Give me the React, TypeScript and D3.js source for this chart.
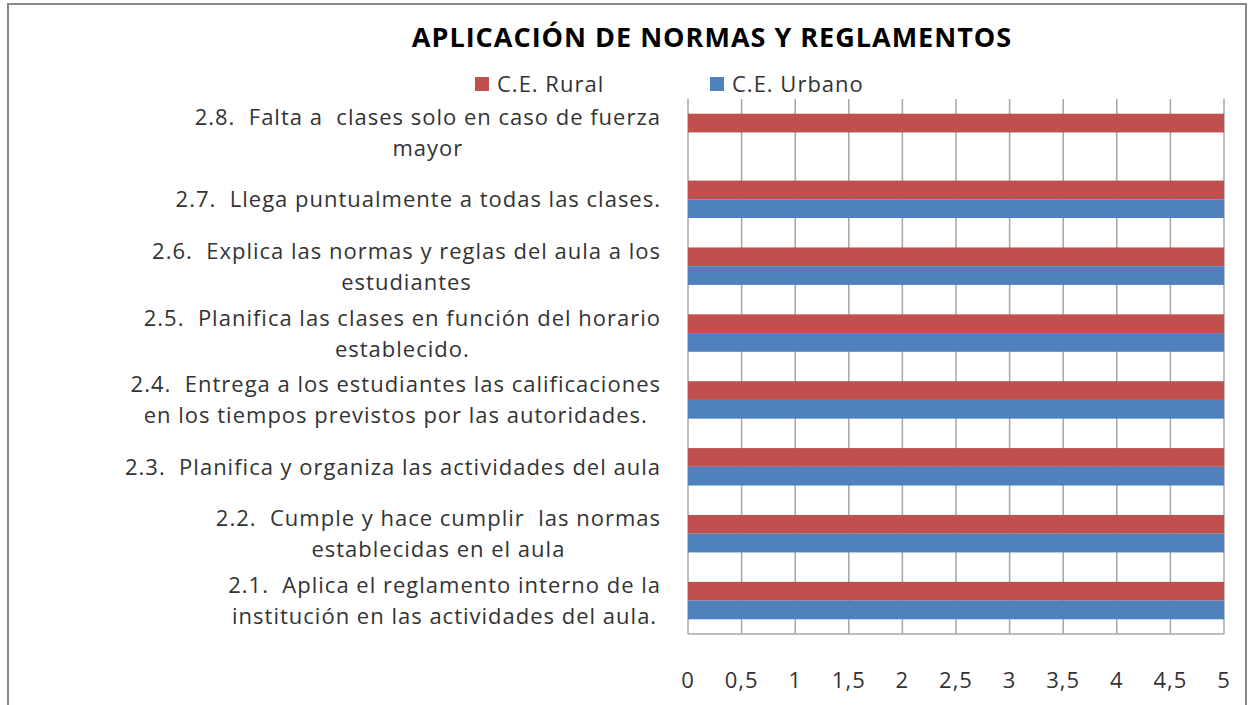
import { useEffect, useRef } from "react";
import * as d3 from "d3";

const categories = ["2.1", "2.2", "2.3", "2.4", "2.5", "2.6", "2.7", "2.8"];
const labelLines = [
  ["2.1.  Aplica el reglamento interno de la", "institución en las actividades del aula."],
  ["2.2.  Cumple y hace cumplir  las normas", "establecidas en el aula"],
  ["2.3.  Planifica y organiza las actividades del aula"],
  ["2.4.  Entrega a los estudiantes las calificaciones", "en los tiempos previstos por las autoridades."],
  ["2.5.  Planifica las clases en función del horario", "establecido."],
  ["2.6.  Explica las normas y reglas del aula a los", "estudiantes"],
  ["2.7.  Llega puntualmente a todas las clases."],
  ["2.8.  Falta a  clases solo en caso de fuerza", "mayor"],
];
const rural = [5, 5, 5, 5, 5, 5, 5, 5];
const urbano = [5, 5, 5, 5, 5, 5, 5, 0];
const seriesNames = ["C.E. Rural", "C.E. Urbano"];
const seriesColors = ["#C0504D", "#4F81BD"];
const xTicks = [0, 0.5, 1, 1.5, 2, 2.5, 3, 3.5, 4, 4.5, 5];
const title = "APLICACIÓN DE NORMAS Y REGLAMENTOS";

const W = 1248;
const H = 705;
const FONT = "'Open Sans', 'Liberation Sans', sans-serif";
const TEXT = "#333";

export default function App() {
  const svgRef = useRef<SVGSVGElement>(null);

  useEffect(() => {
    const svg = d3.select(svgRef.current);
    svg.selectAll("*").remove();
    const m = { top: 99, right: 24, bottom: 71, left: 688 };
    const x = d3.scaleLinear().domain([0, 5]).range([m.left, W - m.right]);
    // categories bottom-up: 2.1 at bottom
    const y = d3
      .scaleBand()
      .domain(categories.slice().reverse())
      .range([m.top, H - m.bottom])
      .paddingInner(0.44)
      .paddingOuter(0.22);
    const inner = d3
      .scaleBand()
      .domain(["rural", "urbano"])
      .range([0, y.bandwidth()]);

    svg
      .append("rect")
      .attr("x", 8)
      .attr("y", 4)
      .attr("width", 1238)
      .attr("height", 740)
      .attr("fill", "#fff")
      .attr("stroke", "#888")
      .attr("stroke-width", 2);

    svg
      .append("text")
      .attr("x", 712)
      .attr("y", 47)
      .attr("text-anchor", "middle")
      .attr("font-family", FONT)
      .attr("font-weight", "bold")
      .attr("font-size", 27)
      .attr("letter-spacing", 1)
      .attr("fill", "#000")
      .text(title);

    // legend
    const legendX = [475, 710];
    seriesNames.forEach((name, i) => {
      svg
        .append("rect")
        .attr("x", legendX[i])
        .attr("y", 77)
        .attr("width", 14)
        .attr("height", 14)
        .attr("fill", seriesColors[i]);
      svg
        .append("text")
        .attr("x", legendX[i] + 22)
        .attr("y", 92)
        .attr("font-family", FONT)
        .attr("font-size", 22)
        .attr("letter-spacing", 1)
        .attr("fill", TEXT)
        .text(name);
    });

    // grid
    svg
      .append("g")
      .selectAll("line")
      .data(xTicks)
      .join("line")
      .attr("x1", (d) => x(d))
      .attr("x2", (d) => x(d))
      .attr("y1", m.top)
      .attr("y2", H - m.bottom)
      .attr("stroke", "#a6a6a6")
      .attr("stroke-width", 1.5);
    svg
      .append("line")
      .attr("x1", m.left)
      .attr("x2", W - m.right)
      .attr("y1", H - m.bottom)
      .attr("y2", H - m.bottom)
      .attr("stroke", "#a6a6a6")
      .attr("stroke-width", 1.5);

    // bars
    const rows = categories.map((c, i) => ({ c, rural: rural[i], urbano: urbano[i] }));
    const g = svg.append("g");
    (["rural", "urbano"] as const).forEach((key, si) => {
      g.selectAll(`rect.${key}`)
        .data(rows.filter((r) => r[key] > 0))
        .join("rect")
        .attr("class", key)
        .attr("x", x(0))
        .attr("y", (d) => (y(d.c) ?? 0) + (inner(key) ?? 0))
        .attr("width", (d) => x(d[key]) - x(0))
        .attr("height", inner.bandwidth())
        .attr("fill", seriesColors[si]);
    });

    // x tick labels
    svg
      .append("g")
      .selectAll("text")
      .data(xTicks)
      .join("text")
      .attr("x", (d) => x(d))
      .attr("y", 688)
      .attr("text-anchor", "middle")
      .attr("font-family", FONT)
      .attr("font-size", 22)
      .attr("letter-spacing", 1)
      .attr("fill", TEXT)
      .text((d) => String(d).replace(".", ","));

    // category labels: lines centred on each other, block right-aligned
    const lineH = 31;
    const right = 661;
    categories.forEach((c, i) => {
      const lines = labelLines[i];
      const cy = (y(c) ?? 0) + y.bandwidth() / 2;
      const t = svg
        .append("text")
        .attr("text-anchor", "middle")
        .attr("font-family", FONT)
        .attr("font-size", 22)
        .attr("letter-spacing", 1)
        .attr("fill", TEXT)
        .style("white-space", "pre");
      const spans = lines.map((ln, j) =>
        t
          .append("tspan")
          .attr("y", cy + (j - (lines.length - 1) / 2) * lineH + 8)
          .text(ln)
      );
      const maxW = d3.max(spans, (s) => (s.node() as SVGTSpanElement).getComputedTextLength()) ?? 0;
      spans.forEach((s) => s.attr("x", right - maxW / 2));
    });
  }, []);

  return (
    <svg
      ref={svgRef}
      width={W}
      height={H}
      style={{ position: "absolute", left: 0, top: 0, display: "block" }}
    />
  );
}
